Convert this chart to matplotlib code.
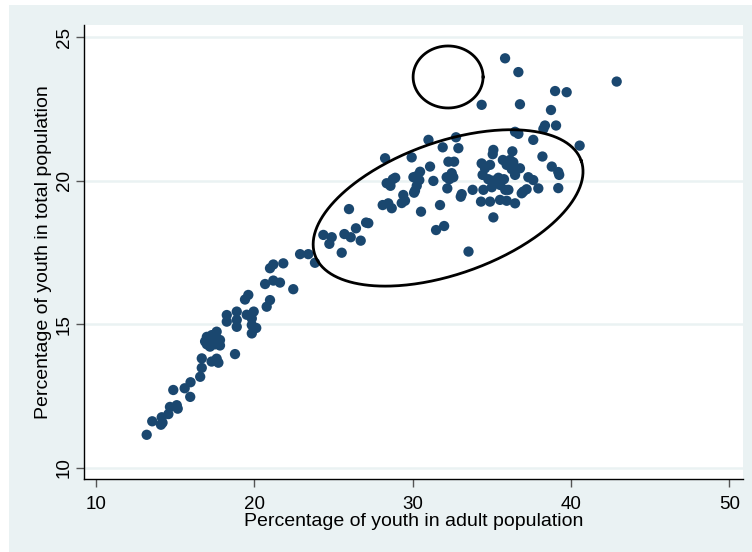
import numpy as np
import matplotlib
matplotlib.use("Agg")
import matplotlib.pyplot as plt
from matplotlib.patches import Rectangle

plt.rcParams['font.family'] = ['Liberation Sans', 'DejaVu Sans']

# Percentage of youth in adult population
youth_adult = [
    13.2, 13.55, 14.1, 14.15, 14.2, 14.57, 14.67, 15.1, 15.16, 14.88,
    15.6, 15.97, 15.95, 16.58, 16.68, 16.68, 17.0, 17.27, 17.52, 17.83,
    17.3, 17.62, 17.73, 18.78, 17.0, 17.31, 17.62, 16.89, 17.2, 17.4,
    17.1, 17.83,
    18.26, 18.26, 18.89, 18.89, 18.89, 19.52, 19.84, 19.96, 19.84, 20.12,
    19.84, 19.41, 19.62, 20.78, 20.99, 20.68, 21.2, 21.62, 22.46, 20.99,
    21.2, 21.83, 22.89, 23.41, 23.83,
    24.36, 24.89, 24.74, 25.52, 25.69, 26.09, 26.72, 26.42, 27.06, 27.2,
    25.98,
    28.26, 28.36, 28.6, 28.75, 28.9, 28.11, 28.46, 28.68, 29.41, 29.52,
    29.31, 29.94, 30.47, 30.26, 30.05, 30.42, 30.26, 30.15, 30.09, 30.53,
    31.0, 31.1, 31.31, 31.73, 31.48, 31.99, 31.9, 32.74, 32.89, 32.26,
    32.62, 32.15, 32.47, 32.57, 32.32, 32.19, 33.1, 33.04, 33.79, 33.53,
    34.36,
    34.36, 34.57, 34.89, 34.42, 34.78, 35.1, 35.42, 35.77, 34.47, 35.0,
    35.52, 34.32, 34.89, 35.52, 35.94, 36.47, 35.1, 36.05, 36.15, 36.36,
    35.94, 36.26, 36.47, 36.78, 35.7, 36.3, 35.1, 35.06, 36.47, 36.68,
    37.62, 38.2, 38.79, 39.2, 39.26, 37.31, 37.62, 37.94, 39.2, 36.99,
    37.2, 38.36, 38.26, 39.06, 38.74, 39.0, 39.73, 40.55, 36.78, 35.84,
    36.68, 42.89, 35.85, 36.89,
]

# Percentage of youth in total population
youth_total = [
    11.15, 11.62, 11.5, 11.76, 11.57, 11.87, 12.12, 12.18, 12.06, 12.71,
    12.77, 12.98, 12.47, 13.17, 13.48, 13.81, 14.3, 14.32, 14.3, 14.26,
    13.7, 13.8, 13.66, 13.96, 14.56, 14.62, 14.74, 14.4, 14.22, 14.5,
    14.45, 14.45,
    15.32, 15.09, 15.44, 15.15, 14.91, 15.33, 15.2, 15.44, 14.68, 14.87,
    14.97, 15.86, 16.02, 15.61, 15.84, 16.4, 16.52, 16.45, 16.22, 16.95,
    17.08, 17.12, 17.44, 17.44, 17.14,
    18.11, 18.03, 17.8, 17.49, 18.14, 18.03, 17.91, 18.34, 18.54, 18.52,
    19.01,
    20.78, 19.91, 19.82, 20.05, 20.1, 19.15, 19.21, 19.04, 19.5, 19.3,
    19.22, 20.81, 20.31, 20.16, 20.12, 20.02, 19.82, 19.65, 19.58, 18.92,
    21.42, 20.49, 19.99, 19.15, 18.28, 18.42, 21.16, 21.51, 21.13, 20.66,
    20.66, 20.12, 20.26, 20.12, 20.05, 19.73, 19.53, 19.44, 19.68, 17.53,
    22.64,
    20.6, 20.43, 20.55, 20.2, 20.05, 20.0, 20.1, 20.05, 19.68, 19.77,
    19.85, 19.27, 19.27, 19.33, 19.3, 19.21, 18.72, 19.68, 20.72, 20.64,
    20.55, 20.4, 20.2, 20.43, 20.72, 21.02, 21.07, 20.92, 21.7, 21.63,
    21.42, 20.84, 20.49, 20.3, 20.2, 20.12, 20.02, 19.73, 19.74, 19.62,
    19.7, 21.92, 21.8, 21.92, 22.46, 23.12, 23.08, 21.22, 22.66, 24.26,
    23.78, 23.45, 19.68, 19.56,
]

x_ticks = [10, 20, 30, 40, 50]
y_ticks = [10, 15, 20, 25]
x_label = "Percentage of youth in adult population"
y_label = "Percentage of youth in total population"

# annotation ellipses (center, semi-axis vectors in data units)
big_ellipse = dict(cx=32.24, cy=19.05, ux=8.41, uy=1.645, vx=1.39, vy=-2.17)
small_ellipse = dict(cx=32.24, cy=23.61, ux=2.21, uy=0.0, vx=0.0, vy=1.08)

navy = "#1A476F"
bg = "#EAF2F3"

fig = plt.figure(figsize=(7.52, 5.52), dpi=100)
fig.patch.set_facecolor("white")
fig.patches.append(Rectangle((9 / 752, 0), 1 - 9 / 752, (552 - 5) / 552,
                             transform=fig.transFigure, facecolor=bg,
                             edgecolor="none", zorder=0))

ax = fig.add_axes([84 / 752, 1 - 479.3 / 552, (743 - 84) / 752, (479.3 - 25) / 552])
ax.set_facecolor("white")
ax.set_zorder(1)

ax.scatter(youth_adult, youth_total, s=55, color=navy, edgecolors="none", zorder=3)

t = np.linspace(0, 2 * np.pi, 400)
for e in (big_ellipse, small_ellipse):
    ex = e["cx"] + e["ux"] * np.cos(t) + e["vx"] * np.sin(t)
    ey = e["cy"] + e["uy"] * np.cos(t) + e["vy"] * np.sin(t)
    ax.plot(ex, ey, color="black", lw=2.0, zorder=4)

ax.set_xlim(9.24, 50.87)
ax.set_ylim(9.6, 25.42)
ax.set_xticks(x_ticks)
ax.set_yticks(y_ticks)
ax.set_yticklabels([str(v) for v in y_ticks], rotation=90, va="center")
ax.grid(axis="y", color=bg, lw=1.8, zorder=0)
ax.set_axisbelow(True)

for side in ("top", "right"):
    ax.spines[side].set_visible(False)
for side in ("left", "bottom"):
    ax.spines[side].set_color("black")
    ax.spines[side].set_linewidth(1.0)

ax.tick_params(axis="both", direction="out", length=5.5, width=1.0,
               color="#555555", labelsize=13.5, labelcolor="black")
ax.tick_params(axis="x", pad=6.5)
ax.tick_params(axis="y", pad=2.5)

ax.set_xlabel(x_label, fontsize=14, labelpad=0)
ax.set_ylabel(y_label, fontsize=14, labelpad=3)

fig.savefig("out.png", dpi=100, facecolor=fig.get_facecolor())
